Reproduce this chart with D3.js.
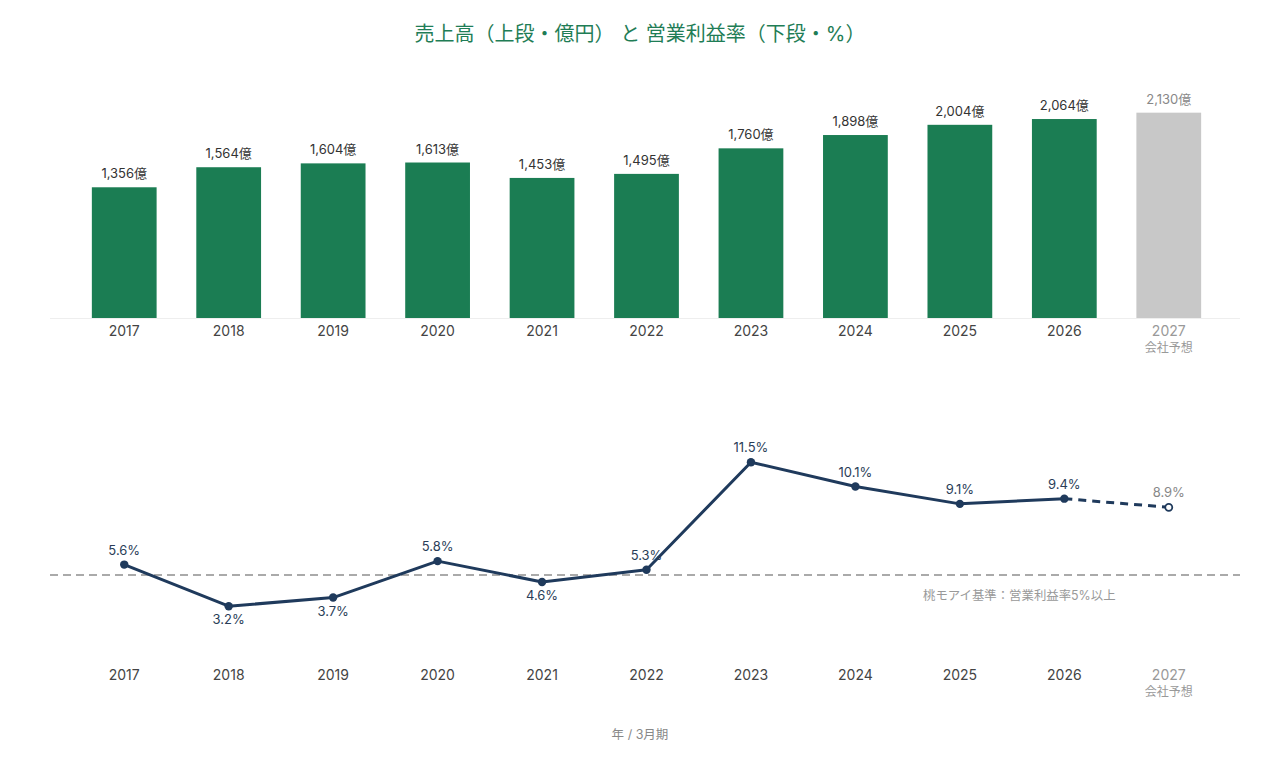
<!DOCTYPE html>
<html><head><meta charset="utf-8">
<script src="https://cdn.jsdelivr.net/npm/d3@7"></script>
<style>
html,body{margin:0;padding:0;background:#fff;}
svg text{font-family:Inter,"Noto Sans CJK JP",sans-serif;}
</style></head>
<body>
<svg id="chart" width="1280" height="760"></svg>
<script>
const years = ["2017","2018","2019","2020","2021","2022","2023","2024","2025","2026","2027"];
const sales = [1356,1564,1604,1613,1453,1495,1760,1898,2004,2064,2130];
const margins = [5.6,3.2,3.7,5.8,4.6,5.3,11.5,10.1,9.1,9.4,8.9];
const forecastYear = "2027";
const forecastLabel = "会社予想";
const threshold = 5;
const thresholdText = "桃モアイ基準：営業利益率5%以上";
const title = "売上高（上段・億円） と 営業利益率（下段・%）";
const footer = "年 / 3月期";

const svg = d3.select("#chart");
const green = "#1b7d53", grey = "#c8c8c8", navy = "#1f3a5c";

svg.append("text").attr("x",640).attr("y",41).attr("text-anchor","middle")
  .attr("font-size",20).attr("fill","#1f7d56").text(title);

const x = d3.scaleBand().domain(years).range([72,1221]).paddingInner(0.38).paddingOuter(0.19);
const cx = d => x(d) + x.bandwidth()/2;

// Bars
const yB = d3.scaleLinear().domain([0,2500]).range([318,77]);
svg.append("line").attr("x1",50).attr("x2",1240).attr("y1",318.5).attr("y2",318.5)
  .attr("stroke","#eeeeee").attr("stroke-width",1);
const bars = years.map((y,i)=>({year:y,v:sales[i],f:y===forecastYear}));
svg.selectAll("rect.bar").data(bars).join("rect").attr("class","bar")
  .attr("x",d=>x(d.year)).attr("width",x.bandwidth())
  .attr("y",d=>yB(d.v)).attr("height",d=>yB(0)-yB(d.v))
  .attr("fill",d=>d.f?grey:green);
svg.selectAll("text.bl").data(bars).join("text").attr("class","bl")
  .attr("x",d=>cx(d.year)).attr("y",d=>yB(d.v)-9).attr("text-anchor","middle")
  .attr("font-size",13).attr("fill",d=>d.f?"#888":"#333")
  .text(d=>d3.format(",")(d.v)+"億");

function xAxis(yPos){
  const g = svg.append("g");
  g.selectAll("text.t").data(years).join("text")
    .attr("x",d=>cx(d)).attr("y",yPos).attr("text-anchor","middle")
    .attr("font-size",14).attr("fill",d=>d===forecastYear?"#999":"#444").text(d=>d);
  g.append("text").attr("x",cx(forecastYear)).attr("y",yPos+16).attr("text-anchor","middle")
    .attr("font-size",12).attr("fill","#999").text(forecastLabel);
}
xAxis(336);

// Line chart
const yL = d3.scaleLinear().domain([0,12]).range([661.75,453.55]);
svg.append("line").attr("x1",50).attr("x2",1240).attr("y1",yL(threshold)).attr("y2",yL(threshold))
  .attr("stroke","#aaaaaa").attr("stroke-width",1.8).attr("stroke-dasharray","8,5");
svg.append("text").attr("x",923).attr("y",yL(threshold)+25).attr("font-size",12.4)
  .attr("fill","#999").text(thresholdText);

const pts = years.map((y,i)=>({year:y,v:margins[i],f:y===forecastYear}));
const line = d3.line().x(d=>cx(d.year)).y(d=>yL(d.v));
const actual = pts.filter(d=>!d.f);
svg.append("path").attr("d",line(actual)).attr("fill","none").attr("stroke",navy)
  .attr("stroke-width",3).attr("stroke-linejoin","round");
svg.append("path").attr("d",line(pts.slice(-2))).attr("fill","none").attr("stroke",navy)
  .attr("stroke-width",3).attr("stroke-dasharray","8,6");
svg.selectAll("circle.p").data(pts).join("circle").attr("class","p")
  .attr("cx",d=>cx(d.year)).attr("cy",d=>yL(d.v)).attr("r",d=>d.f?3.5:4.2)
  .attr("fill",d=>d.f?"#fff":navy).attr("stroke",navy).attr("stroke-width",d=>d.f?1.8:0);
svg.selectAll("text.pl").data(pts).join("text").attr("class","pl")
  .attr("x",d=>cx(d.year)).attr("y",d=>d.v<threshold?yL(d.v)+18:yL(d.v)-10)
  .attr("text-anchor","middle").attr("font-size",13)
  .attr("fill",d=>d.f?"#888":"#2a3d58").text(d=>d.v.toFixed(1)+"%");

xAxis(680);

svg.append("text").attr("x",640).attr("y",739).attr("text-anchor","middle")
  .attr("font-size",12.5).attr("fill","#888").text(footer);
</script>
</body></html>
